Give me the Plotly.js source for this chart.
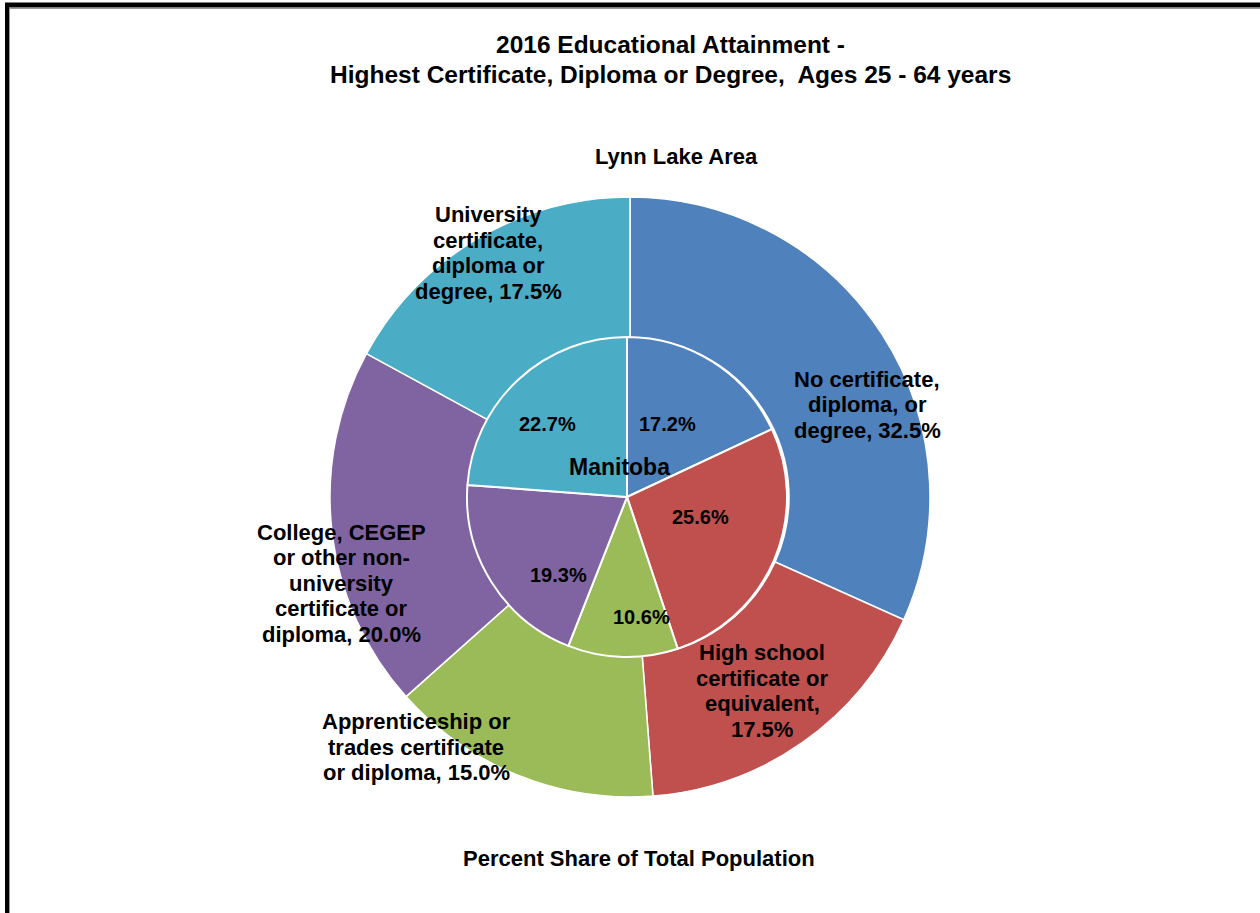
<!DOCTYPE html>
<html>
<head>
<meta charset="utf-8">
<script src="https://cdn.plot.ly/plotly-3.0.1.min.js"></script>
<style>
html,body{margin:0;padding:0;background:#fff;}
#chart{width:1260px;height:913px;}
</style>
</head>
<body>
<div id="chart"></div>
<script>
// Categories (clockwise from 12 o'clock)
const categories = [
  "No certificate, diploma, or degree",
  "High school certificate or equivalent",
  "Apprenticeship or trades certificate or diploma",
  "College, CEGEP or other non-university certificate or diploma",
  "University certificate, diploma or degree"
];
// Wrapped category text used in the outer labels ("\n" = line break)
const categoryWrapped = [
  "No certificate,\ndiploma, or\ndegree, ",
  "High school\ncertificate or\nequivalent,\n",
  "Apprenticeship or\ntrades certificate\nor diploma, ",
  "College, CEGEP\nor other non-\nuniversity\ncertificate or\ndiploma, ",
  "University\ncertificate,\ndiploma or\ndegree, "
];
// Outer ring: Lynn Lake Area (%)
const lynnLake = [32.5, 17.5, 15.0, 20.0, 17.5];
// Inner pie: Manitoba (%)
const manitoba = [17.2, 25.6, 10.6, 19.3, 22.7];
const colors = ["#4F81BD", "#C0504D", "#9BBB59", "#8064A2", "#4BACC6"];

const W = 1260, H = 913;
const px = x => x / W;
const py = y => 1 - y / H;

// label placement (pixels) — layout only
const outerPos = [[867, 405], [762, 691], [416, 747], [341, 583], [488, 253]];
const innerPos = [[667, 424], [700, 517], [641, 617], [558, 575], [547, 424]];
const lineStep = 25.5;

const font = "Liberation Sans, Arial, sans-serif";

const outer = {
  type: "pie",
  values: lynnLake,
  labels: categories,
  sort: false,
  direction: "clockwise",
  rotation: 0,
  hole: 0.53,
  marker: {colors: colors, line: {color: "#ffffff", width: 1.5}},
  textinfo: "none",
  hoverinfo: "label+value",
  domain: {x: [px(330), px(930)], y: [py(797), py(197)]},
  showlegend: false
};
const inner = {
  type: "pie",
  values: manitoba,
  labels: categories,
  sort: false,
  direction: "clockwise",
  rotation: 0,
  marker: {colors: colors, line: {color: "#ffffff", width: 2}},
  textinfo: "none",
  hoverinfo: "label+value",
  domain: {x: [px(467), px(787)], y: [py(657), py(337)]},
  showlegend: false
};

function txt(text, x, y, size) {
  return {
    text: "<b>" + text + "</b>", x: px(x), y: py(y),
    xref: "paper", yref: "paper", showarrow: false,
    xanchor: "center", yanchor: "middle",
    font: {family: font, size: size, color: "#000"}
  };
}

const annotations = [];
categories.forEach((c, i) => {
  const lines = (categoryWrapped[i] + lynnLake[i].toFixed(1) + "%").split("\n");
  const n = lines.length;
  lines.forEach((ln, k) => {
    annotations.push(txt(ln, outerPos[i][0], outerPos[i][1] + (k - (n - 1) / 2) * lineStep, 22));
  });
  annotations.push(txt(manitoba[i].toFixed(1) + "%", innerPos[i][0], innerPos[i][1], 20));
});
annotations.push(txt("Manitoba", 619, 467, 23));
annotations.push(txt("Lynn Lake Area", 676, 157, 22));
annotations.push(txt("Percent Share of Total Population", 639, 858, 22));
annotations.push(txt("2016 Educational Attainment -", 670, 45, 24.5));
annotations.push(txt("Highest Certificate, Diploma or Degree,  Ages 25 - 64 years", 670, 75, 24.5));

const layout = {
  width: W, height: H,
  margin: {l: 0, r: 0, t: 0, b: 0},
  paper_bgcolor: "#ffffff",
  plot_bgcolor: "#ffffff",
  showlegend: false,
  annotations: annotations,
  shapes: [
    {type: "line", xref: "paper", yref: "paper", x0: px(7), x1: px(7), y0: 0, y1: py(3), line: {color: "#000", width: 4}},
    {type: "line", xref: "paper", yref: "paper", x0: px(5), x1: 1, y0: py(5), y1: py(5), line: {color: "#000", width: 5}},
    {type: "line", xref: "paper", yref: "paper", x0: px(9.5), x1: px(9.5), y0: 0, y1: py(8), line: {color: "#999", width: 1}},
    {type: "line", xref: "paper", yref: "paper", x0: px(9), x1: 1, y0: py(8.5), y1: py(8.5), line: {color: "#999", width: 1}}
  ]
};

Plotly.newPlot("chart", [outer, inner], layout, {displayModeBar: false, staticPlot: true});
</script>
</body>
</html>
